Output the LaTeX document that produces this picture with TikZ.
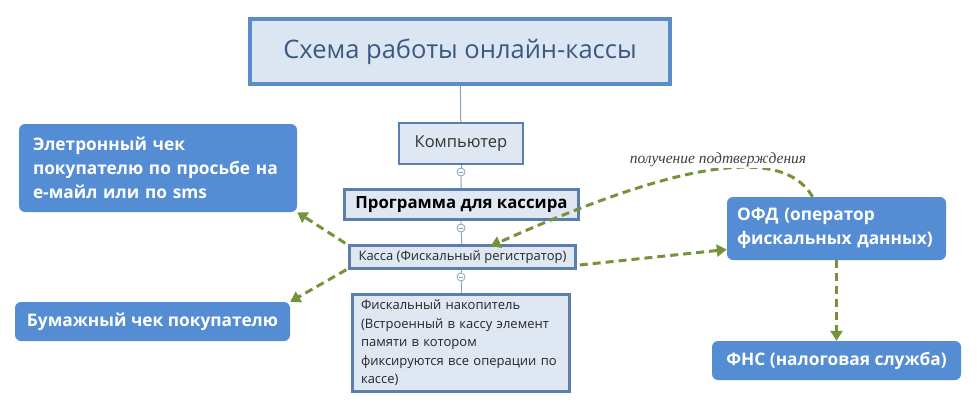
\documentclass[tikz,border=0pt]{standalone}
\usepackage{fontspec}
\setmainfont{Open Sans}
\newfontfamily\notefont{Liberation Serif}
\usetikzlibrary{arrows.meta,positioning}

\definecolor{titlefill}{RGB}{220,230,242}
\definecolor{titleline}{RGB}{91,139,200}
\definecolor{titletext}{RGB}{59,89,128}
\definecolor{boxfill}{RGB}{223,231,242}
\definecolor{boxline}{RGB}{92,126,172}
\definecolor{bluefill}{RGB}{84,141,212}
\definecolor{flow}{RGB}{118,146,60}
\definecolor{treeline}{RGB}{140,160,190}

\begin{document}
\begin{tikzpicture}[
x=1pt,y=-1pt,
>={Triangle[length=10pt,width=12pt]},
box/.style={
rectangle,
draw=boxline,
fill=boxfill,
line width=2.5pt,
inner sep=0pt,
align=center},
blue/.style={
rectangle,
rounded corners=6pt,
fill=bluefill,
text=white,
font=\fontsize{17.3}{24}\selectfont\bfseries,
inner sep=0pt,
align=left},
knob/.style={
circle,
draw=treeline,
fill=white,
line width=.8pt,
minimum size=8pt,
inner sep=0pt,
path picture={\draw[treeline,line width=.8pt] ([xshift=-2pt]path picture bounding box.center)--([xshift=2pt]path picture bounding box.center);}},
tree/.style={draw=treeline,line width=1pt},
flowline/.style={->,draw=flow,line width=3pt,dash pattern=on 8pt off 5pt}
]
\useasboundingbox (0,0) rectangle (977,410);

% central column
\node[box,draw=titleline,fill=titlefill,line width=4pt,minimum width=420pt,minimum height=65pt,
text=titletext,font=\fontsize{25.5}{30}\selectfont] (title) at (460,51.5) {Схема работы онлайн-кассы};
\node[box,line width=2pt,minimum width=124pt,minimum height=41pt,
font=\fontsize{16.5}{20}\selectfont,text=black!80] (komp) at (461,143.5) {Компьютер};
\node[box,line width=3pt,minimum width=234pt,minimum height=30pt,
font=\fontsize{16.8}{20}\selectfont\bfseries] (prog) at (461.5,204.5) {Программа для кассира};
\node[box,minimum width=226pt,minimum height=23pt,
font=\fontsize{13}{15}\selectfont,text=black!85] (kassa) at (462.5,257) {Касса (Фискальный регистратор)};
\node[box,minimum width=217pt,minimum height=97pt,inner xsep=8pt,text width=200pt,align=left,
font=\fontsize{13}{18.5}\selectfont,text=black!85] (fn) at (461,343)
{Фискальный накопитель\\(Встроенный в кассу элемент\\памяти в котором\\фиксируются все операции по\\кассе)};

\node[knob] (c1) at (461,172) {};
\node[knob] (c2) at (461,228) {};
\node[knob] (c3) at (461,277) {};

\draw[tree] (title)--(komp);
\foreach \a/\b in {komp/c1,c1/prog,prog/c2,c2/kassa,kassa/c3,c3/fn}
\draw[tree] (\a)--(\b);

% receivers
\node[blue,minimum width=278pt,minimum height=88pt,inner xsep=14pt,text width=250pt] (el) at (158,168)
{Элетронный чек\\покупателю по просьбе на\\е-майл или по sms};
\node[blue,minimum width=275pt,minimum height=39pt,align=center] (bum) at (152.5,321.5) {Бумажный чек покупателю};
\node[blue,minimum width=219pt,minimum height=63pt,inner xsep=10pt,text width=199pt] (ofd) at (836.5,228.5)
{ОФД (оператор\\фискальных данных)};
\node[blue,minimum width=249pt,minimum height=39pt,align=center] (fns) at (836.5,360.5) {ФНС (налоговая служба)};

% flows
\draw[flowline] ([xshift=-3pt,yshift=1pt]kassa.north west)--(el.south east);
\draw[flowline] ([xshift=-2pt]kassa.south west)--(bum.north east);
\draw[flowline] ([xshift=3pt,yshift=-8pt]kassa.east)--([yshift=-21pt]ofd.west);
\draw[flowline] ([xshift=-24pt]ofd.north) .. controls (780,140) and (660,170) .. ([xshift=28pt,yshift=-2pt]kassa.north);
\draw[flowline] (ofd.south)--(fns.north);

\node[fill=white,inner sep=1pt,font=\notefont\itshape\fontsize{15.5}{17}\selectfont,text=black!75] (conf) at (718,160)
{получение подтверждения};

\end{tikzpicture}
\end{document}
